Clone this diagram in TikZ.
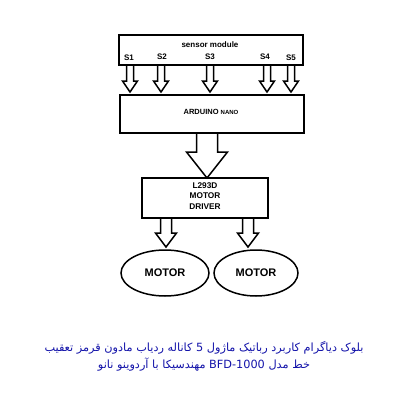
\documentclass[tikz,border=0pt]{standalone}
\usepackage{fontspec}
\setmainfont{Liberation Sans}
\newfontfamily\arabicfont[Script=Arabic]{DejaVu Sans}
\TeXXeTstate=1
\usetikzlibrary{shapes.geometric}
\definecolor{capblue}{RGB}{20,20,170}
\newcommand\blockarr[6]{\draw[arrowline] (#1-#5,#2) -- (#1-#5,#3) -- (#1-#6,#3) -- (#1,#4) -- (#1+#6,#3) -- (#1+#5,#3) -- (#1+#5,#2);}
\begin{document}
\begin{tikzpicture}[x=1pt,y=-1pt,
  boxline/.style={draw=black,line width=1.8pt},
  arrowline/.style={draw=black,line width=1.5pt,line join=miter},
  lbl/.style={font=\fontsize{8}{9}\selectfont\bfseries,inner sep=0pt},
  motor/.style={ellipse,draw=black,line width=1.5pt,minimum width=88pt,minimum height=46pt,inner sep=0pt,font=\fontsize{11}{12}\selectfont\bfseries}]
\useasboundingbox (0,0) rectangle (400,400);
\fill[white] (0,0) rectangle (400,400);
% sensor module
\draw[boxline] (119,35) rectangle (303,65);
\node[lbl] (sm) at (210,45) {sensor module};
\node[lbl] (s1) at (129,58) {S1};
\node[lbl] (s2) at (162,57) {S2};
\node[lbl] (s3) at (210,57) {S3};
\node[lbl] (s4) at (265,57) {S4};
\node[lbl] (s5) at (291,58) {S5};
\blockarr{130}{65}{81}{92}{3.5}{7.5}
\blockarr{161}{65}{81}{92}{3.5}{7.5}
\blockarr{210}{65}{81}{92}{3.5}{7.5}
\blockarr{267}{65}{81}{92}{3.5}{7.5}
\blockarr{291}{65}{81}{92}{3.5}{7.5}
% arduino
\draw[boxline] (120,95) rectangle (304,133);
\node[lbl] (ard) at (211,112) {\fontsize{7.5}{8}\selectfont ARDUINO \fontsize{6}{6}\selectfont NANO};
\blockarr{207}{133}{152}{178}{10.5}{20.5}
% driver
\draw[boxline] (142,178) rectangle (268,218);
\node[lbl,align=center,font=\fontsize{8.3}{10.8}\selectfont\bfseries] (drv) at (205,196) {L293D\\MOTOR\\DRIVER};
\blockarr{166}{218}{233}{247}{5.5}{10.5}
\blockarr{248}{218}{233}{247}{5.5}{10.5}
% motors
\node[motor] (m1) at (165,273) {MOTOR};
\node[motor,minimum width=84pt] (m2) at (256,273) {MOTOR};
% caption
\node[capblue,inner sep=0pt,font=\arabicfont\fontsize{11.3}{13}\selectfont] (c1) at (204,348) {\beginR بلوک دیاگرام کاربرد رباتیک ماژول 5 کاناله ردیاب مادون قرمز تعقیب\endR};
\node[capblue,inner sep=0pt,font=\arabicfont\fontsize{11.3}{13}\selectfont] (c2) at (204,365) {\beginR خط مدل \beginL BFD-1000\endL{} مهندسیکا با آردوینو نانو\endR};
\end{tikzpicture}
\end{document}
